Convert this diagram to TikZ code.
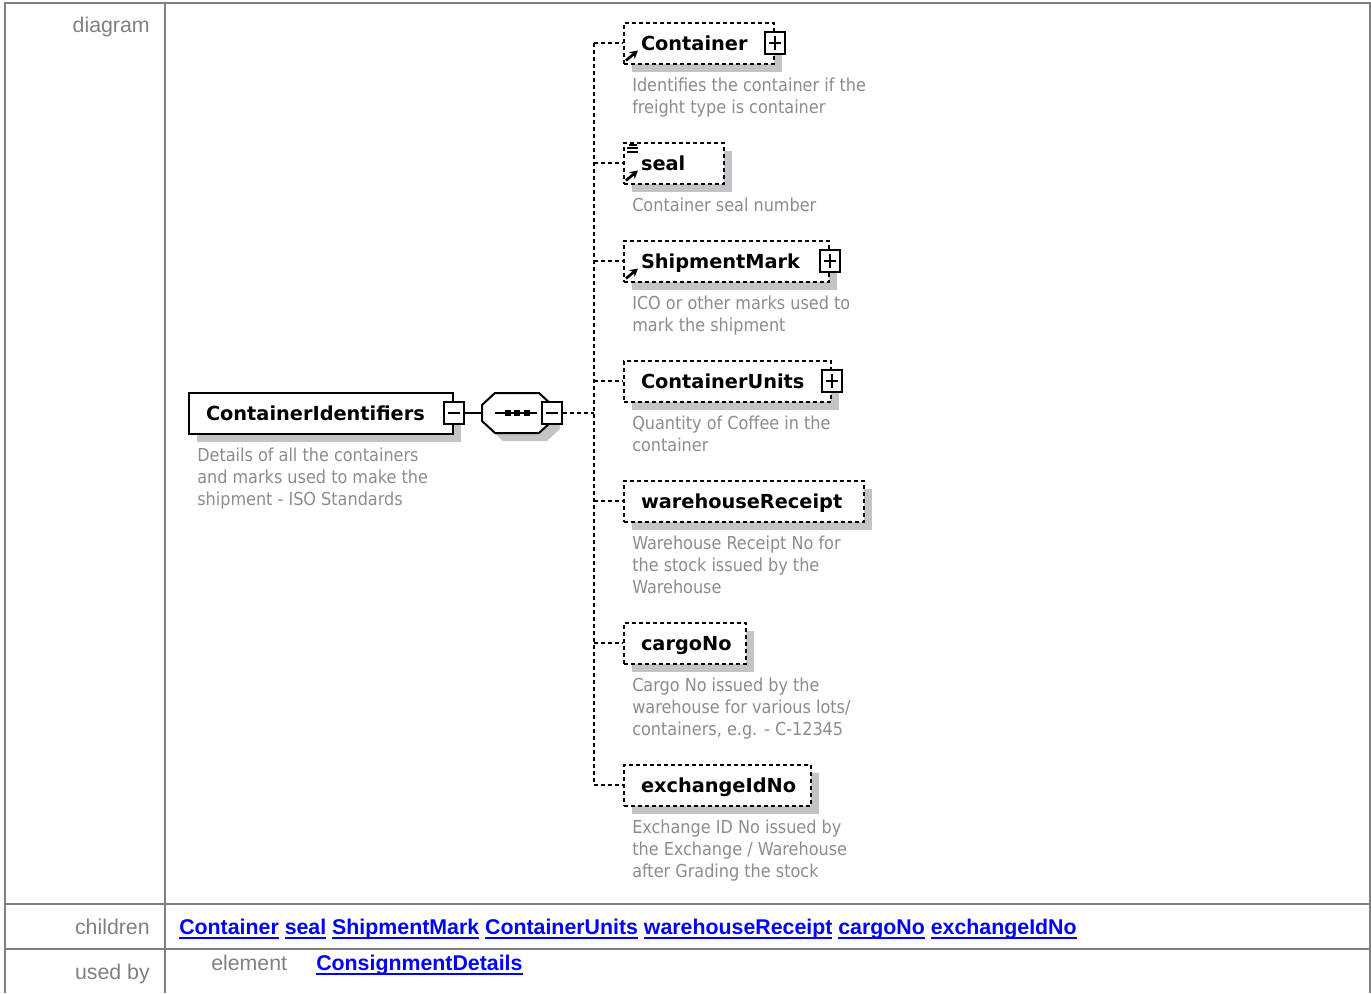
\documentclass[tikz,border=0pt]{standalone}
\usepackage{fontspec}
\setmainfont{Liberation Sans}
\newfontfamily\elemfont{DejaVu Sans}
\newfontfamily\descfont{DejaVu Sans Condensed}
\usetikzlibrary{positioning,shadows,arrows.meta}
\newdimen\pxl \pxl=0.75pt
\hyphenpenalty=10000 \exhyphenpenalty=10000
\definecolor{rulegray}{RGB}{128,128,128}
\definecolor{descgray}{RGB}{140,140,140}
\definecolor{shadowgray}{RGB}{196,196,200}
\definecolor{linkblue}{RGB}{0,0,255}
\newcommand\lnk[1]{\setbox0\hbox{#1}\rlap{\rule[-0.24em]{\wd0}{0.09em}}\box0\relax}

\begin{document}
\begin{tikzpicture}[x=0.75pt, y=-0.75pt,
  grid/.style={draw=rulegray, line width=1.5pt},
  rowlabel/.style={anchor=base east, inner sep=0, text=rulegray, font=\fontsize{16}{19}\selectfont},
  link/.style={anchor=base west, inner sep=0, text=linkblue, font=\bfseries\fontsize{16}{19}\selectfont},
  elem/.style={anchor=west, line width=1.5pt, fill=white, minimum height=41\pxl,
    inner xsep=17\pxl, inner ysep=0, align=left, text height=10.6pt, text depth=0pt,
    font=\elemfont\bfseries\fontsize{14.5}{17}\selectfont,
    general shadow={fill=shadowgray, shadow xshift=8\pxl, shadow yshift=-8\pxl}},
  required/.style={elem, draw},
  optional/.style={elem, draw, dash pattern=on 3pt off 2.25pt},
  desc/.style={anchor=north west, inner sep=0, align=left, text=descgray,
    font=\descfont\fontsize{13.4}{16.5}\selectfont},
  conn/.style={line width=1.5pt, dash pattern=on 3pt off 2.25pt},
  expander/.style={draw, fill=white, line width=1.5pt, minimum width=20\pxl,
    minimum height=22\pxl, inner sep=0},
  minus/.style={expander, path picture={
    \draw[line width=1.5pt] ([xshift=4\pxl]path picture bounding box.west)
      -- ([xshift=-4\pxl]path picture bounding box.east);}},
  plus/.style={expander, path picture={
    \draw[line width=1.5pt] ([xshift=4\pxl]path picture bounding box.west)
      -- ([xshift=-4\pxl]path picture bounding box.east)
      ([yshift=-4\pxl]path picture bounding box.north)
      -- ([yshift=4\pxl]path picture bounding box.south);}},
  refarrow/.style={line width=2pt, -{Stealth[length=6pt, width=6.5pt]}},
  seqbox/.style={minimum width=70\pxl, minimum height=40\pxl, inner sep=0}]
  \def\octagon#1{([shift={(#1-22,#1-20)}]seq.center) -- ([shift={(#1+22,#1-20)}]seq.center)
    -- ([shift={(#1+35,#1-8)}]seq.center) -- ([shift={(#1+35,#1+8)}]seq.center)
    -- ([shift={(#1+22,#1+20)}]seq.center) -- ([shift={(#1-22,#1+20)}]seq.center)
    -- ([shift={(#1-35,#1+8)}]seq.center) -- ([shift={(#1-35,#1-8)}]seq.center) -- cycle}

  \useasboundingbox (0,0) rectangle (1371,993);

  % Table
  \draw[grid] (5,993) -- (5,3) -- (1370,3) -- (1370,993);
  \draw[grid] (165,3) -- (165,993);
  \draw[grid] (5,904) -- (1370,904);
  \draw[grid] (5,949) -- (1370,949);

  \node[rowlabel] (lbldiagram) at (150,32) {diagram};
  \node[rowlabel] (lblchildren) at (150,934) {children};
  \node[rowlabel] (lblusedby) at (150,979) {used by};

  % Parent element
  \node[required, text width=230\pxl] (parent) at (188,413) {ContainerIdentifiers};
  \node[minus] (pminus) at (parent.east) {};
  \node[desc, below right=13\pxl and 9\pxl of parent.south west] (pdesc)
    {Details of all the containers\\and marks used to make the\\shipment - ISO Standards};

  % Sequence
  \node[seqbox] (seq) at (517,413) {};
  \fill[shadowgray] \octagon{8};
  \draw[fill=white, line width=1.5pt] \octagon{0};
  \draw[line width=1.5pt] ([xshift=-22\pxl]seq.center) -- ([xshift=20\pxl]seq.center);
  \foreach \dx in {-9,0,10}
    \fill ([shift={(\dx-3,-3)}]seq.center) rectangle ++(6,6);
  \node[minus] (sminus) at (seq.east) {};
  \draw[line width=1.5pt] (pminus.east) -- (seq.west);
  \coordinate (bus) at (594,413);
  \draw[conn] (sminus.east) -- (bus);

  % Children
  \node[optional, text width=116\pxl] (container) at (623,43) {Container};
  \node[plus] (containerplus) at (container.east) {};
  \draw[refarrow] ([shift={(3,-4)}]container.south west) -- ++(12,-10);
  \node[desc, below right=13\pxl and 9\pxl of container.south west] (containerdesc)
    {Identifies the container if the\\freight type is container};

  \node[optional, text width=66\pxl] (seal) at (623,163) {seal};
  \draw[refarrow] ([shift={(3,-4)}]seal.south west) -- ++(12,-10);
  \draw[line width=1.5pt] ([shift={(6,3)}]seal.north west) -- ++(8,0)
    ([shift={(4,6.5)}]seal.north west) -- ++(11,0)
    ([shift={(4,10)}]seal.north west) -- ++(11,0);
  \node[desc, below right=13\pxl and 9\pxl of seal.south west] (sealdesc)
    {Container seal number};

  \node[optional, text width=171\pxl] (shipmark) at (623,261) {ShipmentMark};
  \node[plus] (shipmarkplus) at (shipmark.east) {};
  \draw[refarrow] ([shift={(3,-4)}]shipmark.south west) -- ++(12,-10);
  \node[desc, below right=13\pxl and 9\pxl of shipmark.south west] (shipmarkdesc)
    {ICO or other marks used to\\mark the shipment};

  \node[optional, text width=173\pxl] (units) at (623,381) {ContainerUnits};
  \node[plus] (unitsplus) at (units.east) {};
  \node[desc, below right=13\pxl and 9\pxl of units.south west] (unitsdesc)
    {Quantity of Coffee in the\\container};

  \node[optional, text width=206\pxl] (receipt) at (623,501) {warehouseReceipt};
  \node[desc, below right=13\pxl and 9\pxl of receipt.south west] (receiptdesc)
    {Warehouse Receipt No for\\the stock issued by the\\Warehouse};

  \node[optional, text width=88\pxl] (cargo) at (623,643) {cargoNo};
  \node[desc, below right=13\pxl and 9\pxl of cargo.south west] (cargodesc)
    {Cargo No issued by the\\warehouse for various lots/\\containers, e.g. - C-12345};

  \node[optional, text width=153\pxl] (exchange) at (623,785) {exchangeIdNo};
  \node[desc, below right=13\pxl and 9\pxl of exchange.south west] (exchangedesc)
    {Exchange ID No issued by\\the Exchange / Warehouse\\after Grading the stock};

  % Connectors
  \draw[conn] (bus |- container.west) -- (bus |- exchange.west);
  \foreach \c in {container,seal,shipmark,units,receipt,cargo,exchange}
    \draw[conn] (bus |- \c.west) -- (\c.west);

  % Children and used by rows
  \node[link] (childlinks) at (179,934)
    {\lnk{Container} \lnk{seal} \lnk{ShipmentMark} \lnk{ContainerUnits} \lnk{warehouseReceipt} \lnk{cargoNo} \lnk{exchangeIdNo}};
  \node[anchor=base west, inner sep=0, text=rulegray, font=\fontsize{16}{19}\selectfont]
    (lblelement) at (211,970) {element};
  \node[link] (usedbylink) at (316,970) {\lnk{ConsignmentDetails}};
\end{tikzpicture}
\end{document}
